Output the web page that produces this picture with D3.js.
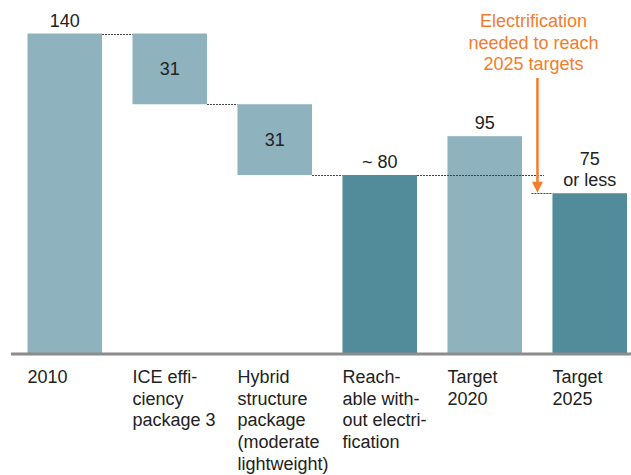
<!DOCTYPE html>
<html><head><meta charset="utf-8">
<script src="https://cdn.jsdelivr.net/npm/d3@7"></script>
<style>body{margin:0;background:#fff}svg{display:block}</style>
</head><body>
<svg id="c" width="631" height="475"></svg>
<script>
const categories = ["2010","ICE efficiency package 3","Hybrid structure package","Reachable without electrification","Target 2020","Target 2025"];
const categoryLines = [["2010"],["ICE effi-","ciency","package 3"],["Hybrid","structure","package","(moderate","lightweight)"],["Reach-","able with-","out electri-","fication"],["Target","2020"],["Target","2025"]];
const barTypes = ["total","delta","delta","total","total","total"];
const values = [140, -31, -31, 78, 95, 70];
const valueLabels = [["140"],["31"],["31"],["~ 80"],["95"],["75","or less"]];
const annotationLines = ["Electrification","needed to reach","2025 targets"];

const light = "#8fb3be", dark = "#528b99", orange = "#f47c2c";
const barColors = [light, light, light, dark, light, dark];

const svg = d3.select("#c");
const font = "'Liberation Sans', Arial, sans-serif";

const x = d3.scaleBand().domain(categories).range([27.5, 627]).paddingInner(0.29).paddingOuter(0);
const y = d3.scaleLinear().domain([0, 140]).range([353, 33.5]);

// compute waterfall spans
let running = 0;
const bars = categories.map((c, i) => {
  let lo, hi;
  if (barTypes[i] === "total") { lo = 0; hi = values[i]; running = values[i]; }
  else { hi = running; lo = running + values[i]; running = lo; }
  return {c, i, lo, hi};
});

svg.append("g").selectAll("rect").data(bars).join("rect")
  .attr("x", d => x(d.c)).attr("width", x.bandwidth())
  .attr("y", d => y(d.hi)).attr("height", d => y(d.lo) - y(d.hi))
  .attr("fill", d => barColors[d.i]);

// connectors
const bw = x.bandwidth();
const conn = [
  {x1: x(categories[0]) + bw, x2: x(categories[1]), v: bars[0].hi},
  {x1: x(categories[1]) + bw, x2: x(categories[2]), v: bars[1].lo},
  {x1: x(categories[2]) + bw, x2: x(categories[3]), v: bars[2].lo},
  {x1: x(categories[3]) + bw, x2: x(categories[4]) + bw + 22, v: bars[3].hi},
  {x1: x(categories[5]) - 21, x2: x(categories[5]), v: bars[5].hi}
];
svg.append("g").selectAll("line").data(conn).join("line")
  .attr("x1", d => d.x1).attr("x2", d => d.x2)
  .attr("y1", d => Math.round(y(d.v)) + 0.5).attr("y2", d => Math.round(y(d.v)) + 0.5)
  .attr("stroke", "#444").attr("stroke-width", 1).attr("stroke-dasharray", "2,1");

// axis line
svg.append("line").attr("x1", 11).attr("x2", 631).attr("y1", 354).attr("y2", 354)
  .attr("stroke", "#8c8c8c").attr("stroke-width", 3);

// value labels
bars.forEach(d => {
  const cx = x(d.c) + bw / 2;
  const lines = valueLabels[d.i];
  const t = svg.append("text").attr("font-family", font).attr("font-size", 18)
    .attr("fill", "#222").attr("text-anchor", "middle");
  if (barTypes[d.i] === "delta") {
    t.attr("x", cx).attr("y", (y(d.hi) + y(d.lo)) / 2 + 6.5).text(lines[0]);
  } else {
    const base = y(d.hi) - 7 - (lines.length - 1) * 21;
    lines.forEach((l, k) => t.append("tspan").attr("x", cx).attr("y", base + k * 21).text(l));
  }
});

// category labels
categoryLines.forEach((lines, i) => {
  const t = svg.append("text").attr("font-family", font).attr("font-size", 18).attr("fill", "#222");
  lines.forEach((l, k) => t.append("tspan").attr("x", x(categories[i])).attr("y", 383 + k * 21.7).text(l));
});

// annotation
const ax = x(categories[5]) - 15;
const at = svg.append("text").attr("font-family", font).attr("font-size", 18).attr("fill", orange).attr("text-anchor", "middle");
annotationLines.forEach((l, k) => at.append("tspan").attr("x", ax - 4).attr("y", 27 + k * 21.5).text(l));
const tipY = y(bars[5].hi) - 0.5;
svg.append("line").attr("x1", ax).attr("x2", ax).attr("y1", 78).attr("y2", tipY - 10)
  .attr("stroke", orange).attr("stroke-width", 2.5);
svg.append("path").attr("d", `M${ax - 5.5},${tipY - 11} L${ax + 5.5},${tipY - 11} L${ax},${tipY} Z`).attr("fill", orange);
</script>
</body></html>
